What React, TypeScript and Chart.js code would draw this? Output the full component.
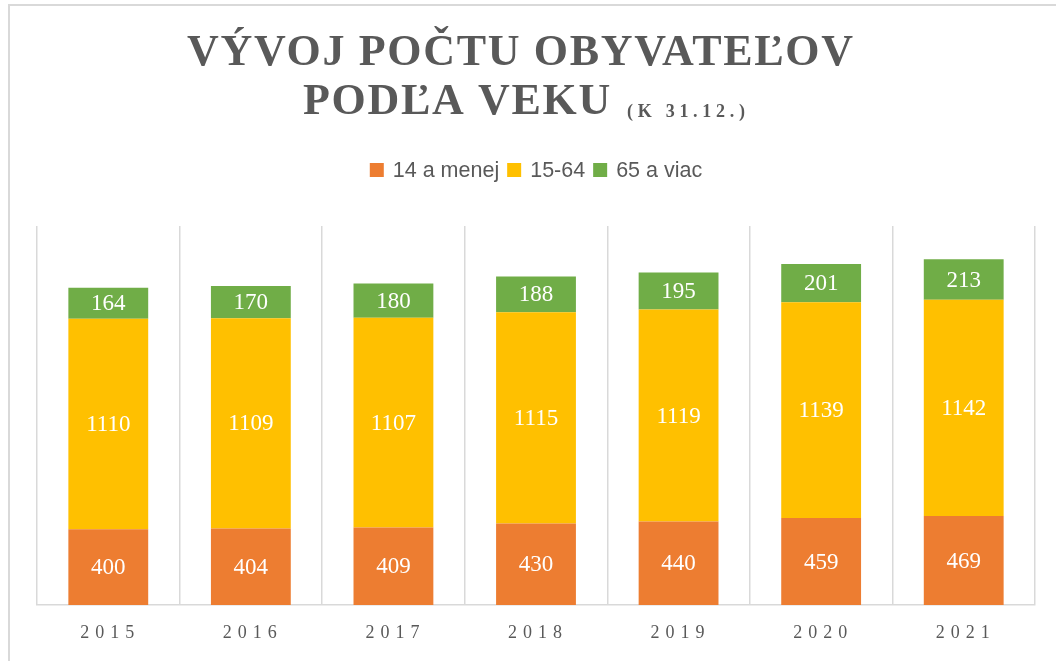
import React, { useEffect, useRef } from "react";
import { Chart, registerables } from "chart.js";

Chart.register(...registerables);

const years = ["2015", "2016", "2017", "2018", "2019", "2020", "2021"];
const age0to14 = [400, 404, 409, 430, 440, 459, 469];
const age15to64 = [1110, 1109, 1107, 1115, 1119, 1139, 1142];
const age65plus = [164, 170, 180, 188, 195, 201, 213];
const seriesNames = ["14 a menej", "15-64", "65 a viac"];
const seriesColors = ["#ED7D31", "#FFC000", "#70AD47"];
const titleLine1 = "VÝVOJ POČTU OBYVATEĽOV";
const titleLine2 = "PODĽA VEKU";
const titleNote = "(K 31.12.)";

const TEXT_GRAY = "#595959";
const GRID_GRAY = "#d9d9d9";

const framePlugin = {
  id: "frame",
  beforeDraw(chart: any) {
    const ctx = chart.ctx;
    ctx.save();
    ctx.fillStyle = "#ffffff";
    ctx.fillRect(0, 0, chart.width, chart.height);
    ctx.strokeStyle = GRID_GRAY;
    ctx.lineWidth = 2;
    ctx.beginPath();
    ctx.moveTo(9, chart.height + 2);
    ctx.lineTo(9, 5);
    ctx.lineTo(chart.width + 2, 5);
    ctx.stroke();
    ctx.restore();
  },
};

function spacedText(ctx: any, text: string, x: number, y: number, spacing: number) {
  (ctx as any).letterSpacing = spacing + "px";
  ctx.fillText(text, x, y);
}

const titlePlugin = {
  id: "customTitle",
  afterDraw(chart: any) {
    const ctx = chart.ctx;
    ctx.save();
    ctx.fillStyle = TEXT_GRAY;
    ctx.textAlign = "left";
    ctx.textBaseline = "alphabetic";
    ctx.font = 'bold 44px "Liberation Serif"';
    (ctx as any).letterSpacing = "0px";
    const w0 = ctx.measureText(titleLine1).width;
    const sp = Math.max(0, (666 - w0) / (Array.from(titleLine1).length - 1));
    spacedText(ctx, titleLine1, 187, 65, sp);
    spacedText(ctx, titleLine2, 303, 114, sp);

    ctx.font = 'bold 18px "Liberation Serif"';
    (ctx as any).letterSpacing = "0px";
    const wn = ctx.measureText(titleNote).width;
    const spn = (118 - wn) / (titleNote.length - 1);
    spacedText(ctx, titleNote, 627, 117, spn);
    ctx.restore();
  },
};

const legendPlugin = {
  id: "customLegend",
  afterDraw(chart: any) {
    const ctx = chart.ctx;
    ctx.save();
    ctx.font = '21.5px "Liberation Sans"';
    ctx.textBaseline = "middle";
    ctx.textAlign = "left";
    const box = 14;
    const gapBoxText = 9;
    const gapItems = 8;
    const items = chart.data.datasets.map((d: any) => ({
      label: d.label,
      color: d.backgroundColor,
      w: ctx.measureText(d.label).width,
    }));
    let total = 0;
    items.forEach((it: any, i: number) => {
      total += box + gapBoxText + it.w + (i < items.length - 1 ? gapItems : 0);
    });
    let x = 536 - total / 2;
    const cy = 170;
    items.forEach((it: any) => {
      ctx.fillStyle = it.color;
      ctx.fillRect(x, cy - box / 2, box, box);
      x += box + gapBoxText;
      ctx.fillStyle = TEXT_GRAY;
      ctx.fillText(it.label, x, cy + 1);
      x += it.w + gapItems;
    });
    ctx.restore();
  },
};

const valueLabelPlugin = {
  id: "valueLabels",
  afterDatasetsDraw(chart: any) {
    const ctx = chart.ctx;
    ctx.save();
    ctx.font = '23px "Liberation Serif"';
    ctx.fillStyle = "#ffffff";
    ctx.textAlign = "center";
    ctx.textBaseline = "middle";
    chart.data.datasets.forEach((ds: any, i: number) => {
      const meta = chart.getDatasetMeta(i);
      meta.data.forEach((bar: any, j: number) => {
        const p = bar.getProps(["x", "y", "base"], true);
        ctx.fillText(String(ds.data[j]), p.x, (p.y + p.base) / 2 + 1);
      });
    });
    ctx.restore();
  },
};

const xLabelPlugin = {
  id: "xLabels",
  afterDraw(chart: any) {
    const ctx = chart.ctx;
    const scale = chart.scales.x;
    ctx.save();
    ctx.font = '18px "Liberation Serif"';
    (ctx as any).letterSpacing = "6px";
    ctx.fillStyle = TEXT_GRAY;
    ctx.textAlign = "center";
    ctx.textBaseline = "middle";
    (chart.data.labels as string[]).forEach((lab, i) => {
      const x = scale.getPixelForTick(i);
      ctx.fillText(lab, x + 2, 633);
    });
    ctx.restore();
  },
};

export default function App() {
  const ref = useRef<HTMLCanvasElement | null>(null);

  useEffect(() => {
    if (!ref.current) return;
    const chart = new Chart(ref.current, {
      type: "bar",
      data: {
        labels: years,
        datasets: [
          { label: seriesNames[0], data: age0to14, backgroundColor: seriesColors[0] },
          { label: seriesNames[1], data: age15to64, backgroundColor: seriesColors[1] },
          { label: seriesNames[2], data: age65plus, backgroundColor: seriesColors[2] },
        ],
      },
      options: {
        animation: false,
        responsive: true,
        maintainAspectRatio: false,
        layout: { padding: { left: 37, right: 21, top: 226, bottom: 56 } },
        datasets: {
          bar: { categoryPercentage: 1, barPercentage: 0.56 },
        },
        plugins: {
          legend: { display: false },
          title: { display: false },
          tooltip: { enabled: false },
        },
        scales: {
          x: {
            stacked: true,
            grid: { offset: true, color: GRID_GRAY, lineWidth: 1.5, drawTicks: false },
            border: { color: GRID_GRAY, width: 1.5 },
            ticks: { display: false },
          },
          y: {
            stacked: true,
            display: false,
            min: 0,
            max: 2000,
          },
        },
      },
      plugins: [framePlugin, titlePlugin, legendPlugin, valueLabelPlugin, xLabelPlugin],
    });
    return () => chart.destroy();
  }, []);

  return (
    <div style={{ position: "fixed", left: 0, top: 0, width: 1056, height: 661, background: "#fff" }}>
      <canvas ref={ref} />
    </div>
  );
}
